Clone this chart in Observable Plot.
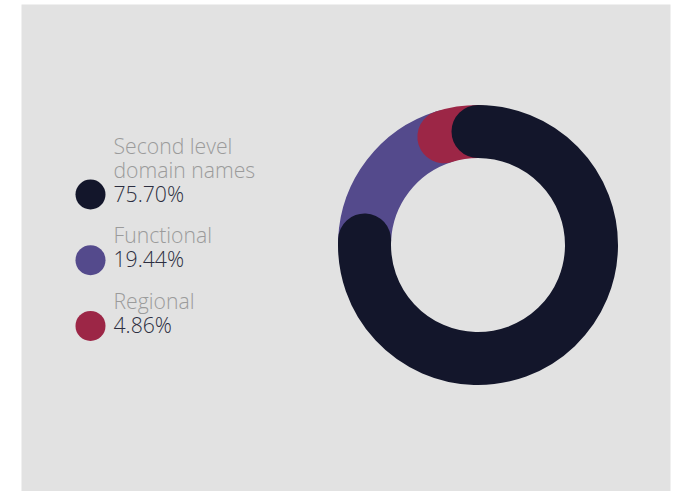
<!DOCTYPE html>
<html><head><meta charset="utf-8">
<script src="https://cdn.jsdelivr.net/npm/d3@7"></script>
<script src="https://cdn.jsdelivr.net/npm/@observablehq/plot@0.6"></script>
<style>body{margin:0;background:#fff}</style>
</head><body><div id="chart"></div>
<script>
// ---- data ----
const categories = ["Second level domain names", "Functional", "Regional"];
const nameLines = ["Second level\ndomain names", "Functional", "Regional"];
const shares = [75.70, 19.44, 4.86];
const valueLabels = ["75.70%", "19.44%", "4.86%"];
const colors = ["#13162b", "#544a8c", "#9c2646"];

const rows = categories.map((c, i) => ({
  category: c, name: nameLines[i], share: shares[i], label: valueLabels[i], color: colors[i], i
}));

// ---- layout ----
const W = 683, H = 491;
const cx = 478, cy = 245, rOuter = 140, rInner = 87;
const legendX = 90, textX = 113, firstBaseline = 201, rowStep = 65.7;
const rowBase = d => firstBaseline + rowStep * d.i;

// pie angles (clockwise from top)
const pie = d3.pie().sort(null).value(d => d.share).startAngle(0).endAngle(2 * Math.PI)(rows);

function donut(index, scales) {
  const sx = scales && scales.x ? scales.x : v => v;
  const sy = scales && scales.y ? scales.y : v => v;
  const X = sx(cx), Y = sy(cy);
  const rMid = (rOuter + rInner) / 2, w = rOuter - rInner;
  const g = d3.create("svg:g");
  // draw order: purple, red, then dark on top
  const order = [1, 2, 0];
  for (const k of order) {
    const a = pie[k];
    const p = d3.path();
    p.arc(X, Y, rMid, a.startAngle - Math.PI / 2, a.endAngle - Math.PI / 2, false);
    g.append("path")
      .attr("d", p.toString())
      .attr("fill", "none")
      .attr("stroke", a.data.color)
      .attr("stroke-width", w)
      .attr("stroke-linecap", "round");
  }
  return g.node();
}

const chart = Plot.plot({
  width: W, height: H,
  marginLeft: 21, marginRight: 13, marginTop: 4, marginBottom: 0,
  x: {domain: [21, 670], range: [21, 670], axis: null},
  y: {domain: [4, 491], range: [4, 491], axis: null},
  style: {background: "#fff", fontFamily: "'Open Sans', sans-serif"},
  marks: [
    Plot.frame({fill: "#e2e2e2", stroke: null}),
    donut,
    Plot.dot(rows, {x: () => legendX, y: d => rowBase(d) - 7, r: 15, fill: "color", stroke: null}),
    Plot.text(rows, {x: () => textX, y: d => rowBase(d) - 24, text: "name", textAnchor: "start",
      lineAnchor: "bottom", lineHeight: 1.11, fontSize: 21.2, fontWeight: 300, fill: "#9b9b9b"}),
    Plot.text(rows, {x: () => textX, y: d => rowBase(d), text: "label", textAnchor: "start",
      lineAnchor: "bottom", fontSize: 21.2, fontWeight: 300, fill: "#2c2e40"})
  ]
});
document.getElementById("chart").append(chart);
</script>
</body></html>
